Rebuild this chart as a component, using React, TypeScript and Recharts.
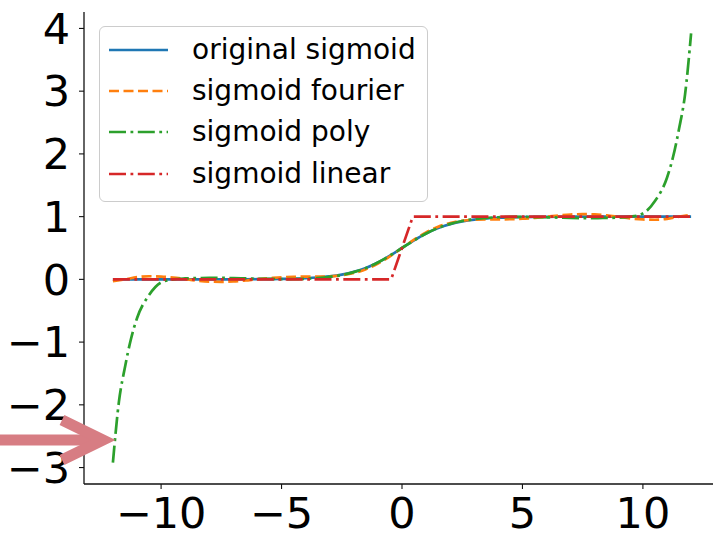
import React from 'react';
import { LineChart, Line, XAxis, YAxis } from 'recharts';

// shared x grid (step 0.5) for sigmoid + fourier
const gridX = [
  -12, -11.5, -11, -10.5, -10, -9.5, -9, -8.5, -8, -7.5, -7, -6.5, -6, -5.5, -5, -4.5, -4, -3.5, -3, -2.5, -2, -1.5, -1, -0.5,
  0,
  0.5, 1, 1.5, 2, 2.5, 3, 3.5, 4, 4.5, 5, 5.5, 6, 6.5, 7, 7.5, 8, 8.5, 9, 9.5, 10, 10.5, 11, 11.5, 12,
];

const sigmoidY = [
  0, 0, 0, 0, 0, 0.0001, 0.0001, 0.0002, 0.0003, 0.0006, 0.0009, 0.0015, 0.0025, 0.0041, 0.0067, 0.011, 0.018, 0.0293, 0.0474,
  0.0759, 0.1192, 0.1824, 0.2689, 0.3775,
  0.5,
  0.6225, 0.7311, 0.8176, 0.8808, 0.9241, 0.9526, 0.9707, 0.982, 0.989, 0.9933, 0.9959, 0.9975, 0.9985, 0.9991, 0.9994,
  0.9997, 0.9998, 0.9999, 0.9999, 1, 1, 1, 1, 1,
];

const fourierY = [
  -0.03, 0, 0.035, 0.05, 0.045, 0.03, 0.005, -0.02, -0.035, -0.039, -0.034, -0.018, 0.003, 0.019, 0.034, 0.041, 0.044,
  0.044, 0.047, 0.066, 0.101, 0.162, 0.252, 0.368,
  0.5,
  0.632, 0.748, 0.838, 0.899, 0.934, 0.953, 0.956, 0.956, 0.959, 0.966, 0.981, 0.997, 1.018, 1.034, 1.039, 1.035, 1.02,
  0.995, 0.97, 0.955, 0.95, 0.965, 1.0, 1.03,
];

// poly fit blows up at the ends, so sample it a bit denser there
const polyX = [
  -12, -11.75, -11.5, -11.25, -11, -10.5, -10, -9.5, -9, -8.5, -8, -7.5, -7, -6.5, -6, -5.5, -5, -4.5, -4, -3.5, -3, -2.5,
  -2, -1.5, -1, -0.5,
  0,
  0.5, 1, 1.5, 2, 2.5, 3, 3.5, 4, 4.5, 5, 5.5, 6, 6.5, 7, 7.5, 8, 8.5, 9, 9.5, 10, 10.5, 11, 11.25, 11.5, 11.75, 12,
];

const polyY = [
  -2.92, -1.95, -1.4, -0.95, -0.62, -0.25, -0.05, 0, 0.015, 0.02, 0.025, 0.023, 0.02, 0.015, 0.01, 0.007, 0.005, 0.005,
  0.01, 0.02, 0.04, 0.07, 0.115, 0.18, 0.27, 0.38,
  0.5,
  0.62, 0.73, 0.82, 0.885, 0.93, 0.96, 0.98, 0.99, 0.995, 0.995, 0.993, 0.99, 0.985, 0.98, 0.977, 0.975, 0.98, 0.985, 1.0,
  1.05, 1.25, 1.62, 1.95, 2.4, 2.95, 3.92,
];

const linearX = [-12, -0.45, 0.45, 12];
const linearY = [0, 0, 1, 1];

const xTicks = [-10, -5, 0, 5, 10];
const yTicks = [-3, -2, -1, 0, 1, 2, 3, 4];

const seriesNames = ['original sigmoid', 'sigmoid fourier', 'sigmoid poly', 'sigmoid linear'];
const seriesColors = ['#1f77b4', '#ff7f0e', '#2ca02c', '#d62728'];
const seriesDash = ['', '10 4.5', '17 4.5 2.8 4.5', '17 4.5 2.8 4.5'];

const toPoints = (xs: number[], ys: number[]) => xs.map((x, i) => ({ x, y: ys[i] }));

const seriesData = [
  toPoints(gridX, sigmoidY),
  toPoints(gridX, fourierY),
  toPoints(polyX, polyY),
  toPoints(linearX, linearY),
];

const FONT = '"DejaVu Sans", sans-serif';

const fmt = (v: number) => (v < 0 ? `\u2212${Math.abs(v)}` : `${v}`);

const LegendBox = () => (
  <div
    style={{
      position: 'absolute',
      left: 99,
      top: 26,
      width: 329,
      height: 176,
      boxSizing: 'border-box',
      border: '1.3px solid #cccccc',
      borderRadius: 6,
      background: 'rgba(255,255,255,0.8)',
      fontFamily: FONT,
      fontSize: 28,
      color: '#000',
    }}
  >
    {seriesNames.map((name, i) => (
      <div
        key={name}
        style={{
          position: 'absolute',
          left: 0,
          top: 2 + i * 41.3,
          height: 41.3,
          width: '100%',
          display: 'flex',
          alignItems: 'center',
        }}
      >
        <svg width={59} height={10} style={{ marginLeft: 9, display: 'block' }}>
          <line
            x1={0}
            y1={5}
            x2={59}
            y2={5}
            stroke={seriesColors[i]}
            strokeWidth={2.7}
            strokeDasharray={seriesDash[i] || undefined}
          />
        </svg>
        <span style={{ marginLeft: 24, whiteSpace: 'nowrap', lineHeight: 1 }}>{name}</span>
      </div>
    ))}
  </div>
);

export default function App() {
  return (
    <div style={{ position: 'absolute', left: 0, top: 0, width: 713, height: 533, overflow: 'hidden', background: '#fff' }}>
      <LineChart width={730} height={533} margin={{ top: 12, right: 10, left: 0, bottom: 0 }}>
        <XAxis
          xAxisId="top"
          orientation="top"
          type="number"
          dataKey="x"
          domain={[-13.2, 13.2]}
          height={0}
          tick={false}
          tickLine={false}
          axisLine={{ stroke: '#111', strokeWidth: 1.3 }}
        />
        <XAxis
          type="number"
          dataKey="x"
          domain={[-13.2, 13.2]}
          ticks={xTicks}
          interval={0}
          tickFormatter={fmt}
          allowDataOverflow
          height={49}
          tickSize={5}
          tickMargin={8}
          axisLine={{ stroke: '#111', strokeWidth: 1.3 }}
          tickLine={{ stroke: '#111', strokeWidth: 1.1 }}
          tick={{ fill: '#000', fontSize: 43, fontFamily: FONT }}
        />
        <YAxis
          type="number"
          domain={[-3.262, 4.262]}
          ticks={yTicks}
          interval={0}
          tickFormatter={fmt}
          allowDataOverflow
          width={84}
          tickSize={5}
          tickMargin={9}
          axisLine={{ stroke: '#111', strokeWidth: 1.3 }}
          tickLine={{ stroke: '#111', strokeWidth: 1.1 }}
          tick={{ fill: '#000', fontSize: 43, fontFamily: FONT }}
        />
        {seriesData.map((data, i) => (
          <Line
            key={seriesNames[i]}
            data={data}
            dataKey="y"
            name={seriesNames[i]}
            type={i === 3 ? 'linear' : 'monotone'}
            stroke={seriesColors[i]}
            strokeWidth={2.7}
            strokeDasharray={seriesDash[i] || undefined}
            dot={false}
            activeDot={false}
            isAnimationActive={false}
          />
        ))}
      </LineChart>
      <LegendBox />
      {/* pink annotation arrow on the left */}
      <svg
        width={713}
        height={533}
        style={{ position: 'absolute', left: 0, top: 0, pointerEvents: 'none' }}
      >
        <line x1={0} y1={440} x2={100} y2={440} stroke="#d77d83" strokeWidth={11} />
        <polyline
          points="62,420 103,440 62,460"
          fill="none"
          stroke="#d77d83"
          strokeWidth={11}
          strokeLinejoin="miter"
        />
      </svg>
    </div>
  );
}
